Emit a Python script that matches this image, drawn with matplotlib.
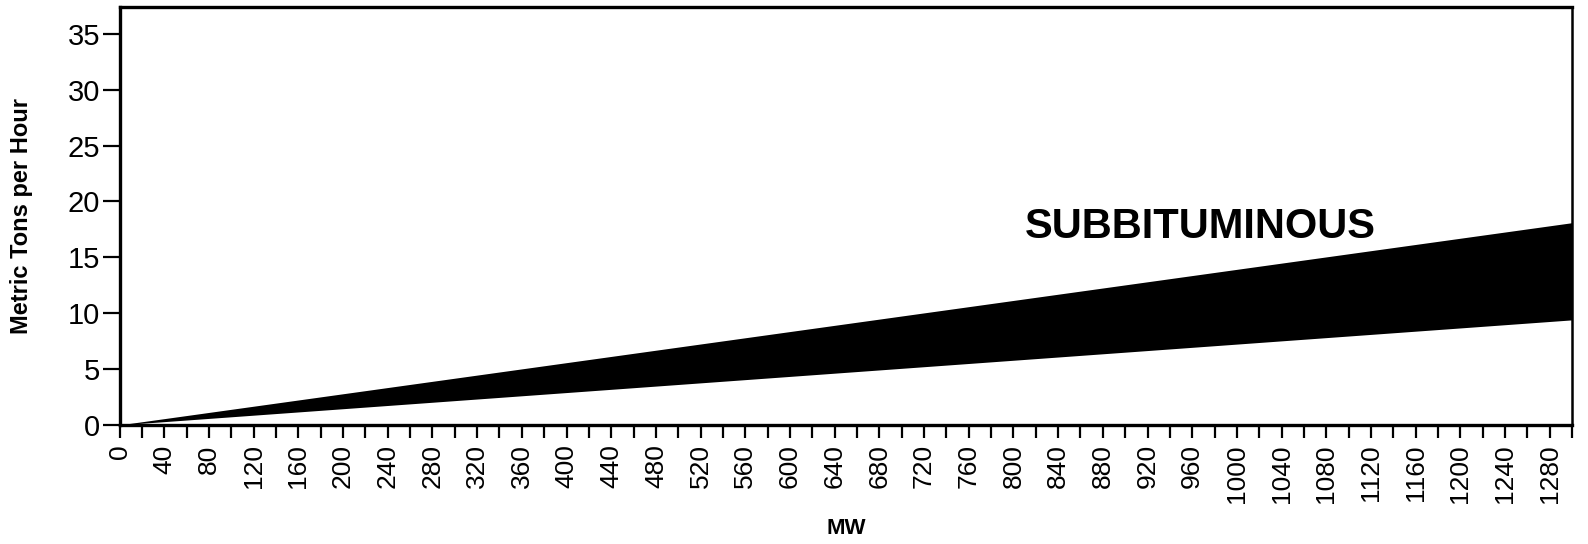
import matplotlib
matplotlib.use("Agg")
import matplotlib.pyplot as plt
import numpy as np

# subbituminous coal consumption band (metric tons/hour vs. plant size)
mw = [0, 1300]
upper_tph = [0, 18.1]
lower_tph = [0, 9.4]

x_major = np.arange(0, 1281, 40)
x_minor = np.arange(0, 1301, 20)
y_major = np.arange(0, 36, 5)

plt.rcParams['font.family'] = ['Liberation Sans', 'DejaVu Sans']

fig = plt.figure(figsize=(15.88, 5.44), dpi=100)
ax = fig.add_axes([0.0753, 0.219, 0.9147, 0.768])

ax.fill_between(mw, lower_tph, upper_tph, color='black', linewidth=0)

ax.set_xlim(0, 1300)
ax.set_ylim(0, 37.4)

ax.set_xticks(x_major)
ax.set_xticks(x_minor, minor=True)
ax.set_xticklabels([str(v) for v in x_major], rotation=90, fontsize=19)
ax.set_yticks(y_major)
ax.set_yticklabels([str(v) for v in y_major], fontsize=21)

ax.tick_params(axis='x', which='both', direction='out', length=9, width=1.6, pad=5)
ax.tick_params(axis='y', direction='out', length=12, width=1.6, pad=2)

for side in ['left', 'bottom', 'top']:
    ax.spines[side].set_linewidth(2.4)
ax.spines['right'].set_linewidth(1.8)

ax.set_xlabel('MW', fontsize=16, fontweight='bold', labelpad=11)
ax.set_ylabel('Metric Tons per Hour', fontsize=17, fontweight='bold', labelpad=25)

ax.text(810, 17.7, 'SUBBITUMINOUS', fontsize=30, fontweight='bold',
        ha='left', va='center')

fig.savefig('out.png', dpi=100)
